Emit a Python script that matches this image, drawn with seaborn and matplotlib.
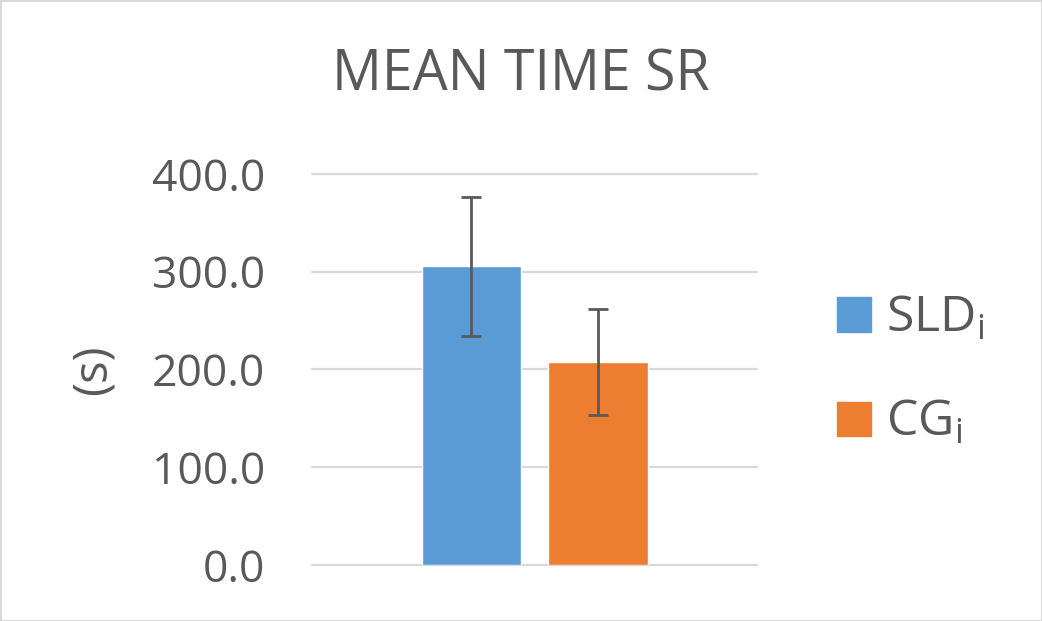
import matplotlib
matplotlib.use("Agg")
import matplotlib.pyplot as plt
import seaborn as sns
import pandas as pd

groups = ["SLD$_\\mathrm{i}$", "CG$_\\mathrm{i}$"]
mean_time = [305.5, 207.5]
error = [71.0, 54.0]
colors = ["#5B9BD5", "#ED7D31"]
yticks = [0, 100, 200, 300, 400]

sns.set_style("white")
plt.rcParams["font.family"] = ["Open Sans", "DejaVu Sans"]
plt.rcParams["mathtext.fontset"] = "custom"
plt.rcParams["mathtext.rm"] = "Open Sans"

df = pd.DataFrame({"group": groups, "mean": mean_time})

fig = plt.figure(figsize=(10.42, 6.21), dpi=100)
fig.patch.set_edgecolor("#d9d9d9")
fig.patch.set_linewidth(2)
ax = fig.add_axes([0.2994, 0.0902, 0.4271, 0.6296])

for y in yticks:
    ax.axhline(y, color="#d9d9d9", lw=1.6, clip_on=False, zorder=0)

sns.barplot(data=df, x="group", y="mean", hue="group", palette=colors,
            saturation=1, width=0.787, legend=False, ax=ax, zorder=2)
ax.errorbar(range(len(groups)), mean_time, yerr=error, fmt="none",
            ecolor="#595959", elinewidth=2, capsize=7.2, capthick=2, zorder=3)

ax.set_xlim(-1.261, 2.257)
ax.set_ylim(0, 400)
ax.set_yticks(yticks)
ax.set_yticklabels([f"{v:.1f}" for v in yticks], fontsize=32, color="#595959")
ax.tick_params(axis="y", length=0, pad=34)
ax.set_xticks([])
ax.set_xlabel("")
ax.set_ylabel("")
for s in ax.spines.values():
    s.set_visible(False)

fig.text(93 / 1042, 1 - 370 / 621, "(s)", rotation=90, ha="center", va="center",
         fontsize=34, color="#595959")

handles = [plt.Rectangle((0, 0), 1, 1, color=c) for c in colors]
fig.legend(handles, groups, loc="center left", bbox_to_anchor=(0.779, 0.402),
           fontsize=36, frameon=False, handlelength=0.68, handleheight=0.68,
           handletextpad=0.3, labelspacing=1.1, borderpad=0,
           labelcolor="#595959")

fig.text(0.5, 0.878, "MEAN TIME SR", ha="center", va="center",
         fontsize=40, color="#595959")

fig.savefig("out.png", dpi=100, edgecolor=fig.get_edgecolor())
